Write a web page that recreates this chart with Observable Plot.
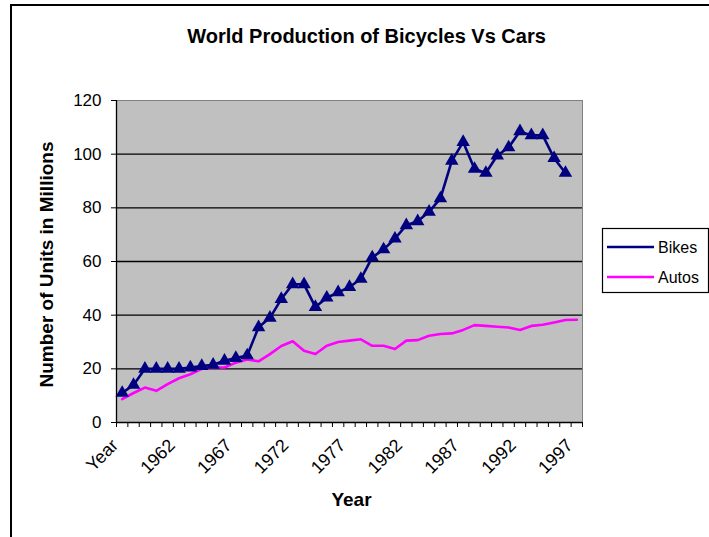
<!DOCTYPE html>
<html><head><meta charset="utf-8">
<script src="https://cdn.jsdelivr.net/npm/d3@7"></script>
<script src="https://cdn.jsdelivr.net/npm/@observablehq/plot@0.6"></script>
<style>
body{margin:0;background:#fff;}
#chart{position:relative;width:709px;height:537px;overflow:hidden;}
#border{position:absolute;left:10px;top:4px;width:800px;height:700px;border:2px solid #000;box-sizing:border-box;pointer-events:none;}
#chart svg{position:absolute;left:0;top:0;}
</style></head><body><div id="chart"><div id="border"></div></div>
<script>
const categories = ["Year","1958","1959","1960","1961","1962","1963","1964","1965","1966","1967","1968","1969","1970","1971","1972","1973","1974","1975","1976","1977","1978","1979","1980","1981","1982","1983","1984","1985","1986","1987","1988","1989","1990","1991","1992","1993","1994","1995","1996","1997"];
const bikes = [11, 14, 20, 20, 20, 20, 20.5, 21, 21.5, 23, 24, 25, 35.5, 39, 46, 51.5, 51.5, 43, 46.5, 48.5, 50.5, 53.5, 61.5, 64.5, 68.5, 73.5, 75, 78.5, 83.5, 97.5, 104.5, 94.5, 93, 99.5, 102.5, 108.5, 107, 107, 98.5, 93];
const autos = [8.7, 11, 13, 11.8, 14.3, 16.5, 18, 20, 20.5, 20.5, 22.3, 23.5, 22.8, 25.5, 28.5, 30.3, 26.7, 25.5, 28.6, 30, 30.5, 31, 28.6, 28.6, 27.4, 30.5, 30.7, 32.3, 33, 33.2, 34.5, 36.3, 36, 35.7, 35.4, 34.5, 36, 36.4, 37.3, 38.2, 38.3];
const yTicks = [0, 20, 40, 60, 80, 100, 120];
const gridValues = [20, 40, 60, 80, 100];
const labeledCategories = ["Year","1962","1967","1972","1977","1982","1987","1992","1997"];
const seriesNames = ["Bikes", "Autos"];
const seriesColors = ["#000080", "#FF00FF"];
const titleText = "World Production of Bicycles Vs Cars";
const yTitle = "Number of Units in Millions";
const xTitle = "Year";

const rows = categories.map((c, i) => ({cat: c, i, bikes: bikes[i], autos: autos[i]}));
const bikeRows = rows.filter(d => d.bikes != null);
const labelRows = rows.filter(d => labeledCategories.includes(d.cat));
const xPos = d => d.i + 0.5;
const FONT = "'Liberation Sans', Arial, sans-serif";

const chart = Plot.plot({
  width: 709, height: 537,
  marginLeft: 116, marginRight: 127, marginTop: 100, marginBottom: 115,
  style: {fontFamily: FONT, background: "transparent", overflow: "visible", color: "#000"},
  x: {domain: [0, categories.length], axis: null},
  y: {domain: [0, 120], axis: null},
  marks: [
    Plot.frame({fill: "#C0C0C0", stroke: "#808080"}),
    Plot.ruleY(gridValues, {stroke: "#000", strokeWidth: 1.3}),
    Plot.line(rows, {x: xPos, y: "autos", stroke: seriesColors[1], strokeWidth: 2.6}),
    Plot.line(bikeRows, {x: xPos, y: "bikes", stroke: seriesColors[0], strokeWidth: 2.6}),
    Plot.dot(bikeRows, {x: xPos, y: "bikes", symbol: "triangle", fill: seriesColors[0], r: 5}),
    Plot.ruleY([0], {stroke: "#000", strokeWidth: 1.3}),
    Plot.ruleX([0], {stroke: "#000", strokeWidth: 1.3}),
    Plot.axisY(yTicks, {tickSize: 5, tickPadding: 10, fontSize: 17, label: null}),
    Plot.axisX(d3.range(0, categories.length + 1), {tickSize: 5, tickFormat: () => "", label: null}),
    Plot.text(labelRows, {x: xPos, text: "cat", frameAnchor: "bottom", rotate: -45, textAnchor: "end", dx: -3, dy: 24, fontSize: 18}),
    Plot.text([titleText], {frameAnchor: "top", dx: 17, dy: -72, fontSize: 20, fontWeight: "bold"}),
    Plot.text([yTitle], {frameAnchor: "left", rotate: -90, textAnchor: "middle", dx: -70, dy: 3, fontSize: 19, fontWeight: "bold"}),
    Plot.text([xTitle], {frameAnchor: "bottom", dx: 2, dy: 83, fontSize: 19, fontWeight: "bold"})
  ]
});
document.getElementById("chart").appendChild(chart);

// legend
const svg = d3.select(chart);
const lg = svg.append("g").attr("transform", "translate(602,228)");
lg.append("rect").attr("x", 0.5).attr("y", 0.5).attr("width", 106).attr("height", 64)
  .attr("fill", "#fff").attr("stroke", "#000").attr("stroke-width", 1.2);
seriesNames.forEach((name, k) => {
  const yy = 19 + k * 30;
  lg.append("line").attr("x1", 5).attr("x2", 52).attr("y1", yy).attr("y2", yy)
    .attr("stroke", seriesColors[k]).attr("stroke-width", 2.6);
  if (k === 0) {
    lg.append("path").attr("d", d3.symbol(d3.symbolTriangle, 78).toString())
      .attr("transform", `translate(28,${yy})`).attr("fill", seriesColors[k]);
  }
  lg.append("text").attr("x", 56).attr("y", yy).attr("dy", "0.35em")
    .attr("text-anchor", "start")
    .attr("font-family", FONT).attr("font-size", 16).attr("fill", "#000").text(name);
});
</script>
</body></html>
